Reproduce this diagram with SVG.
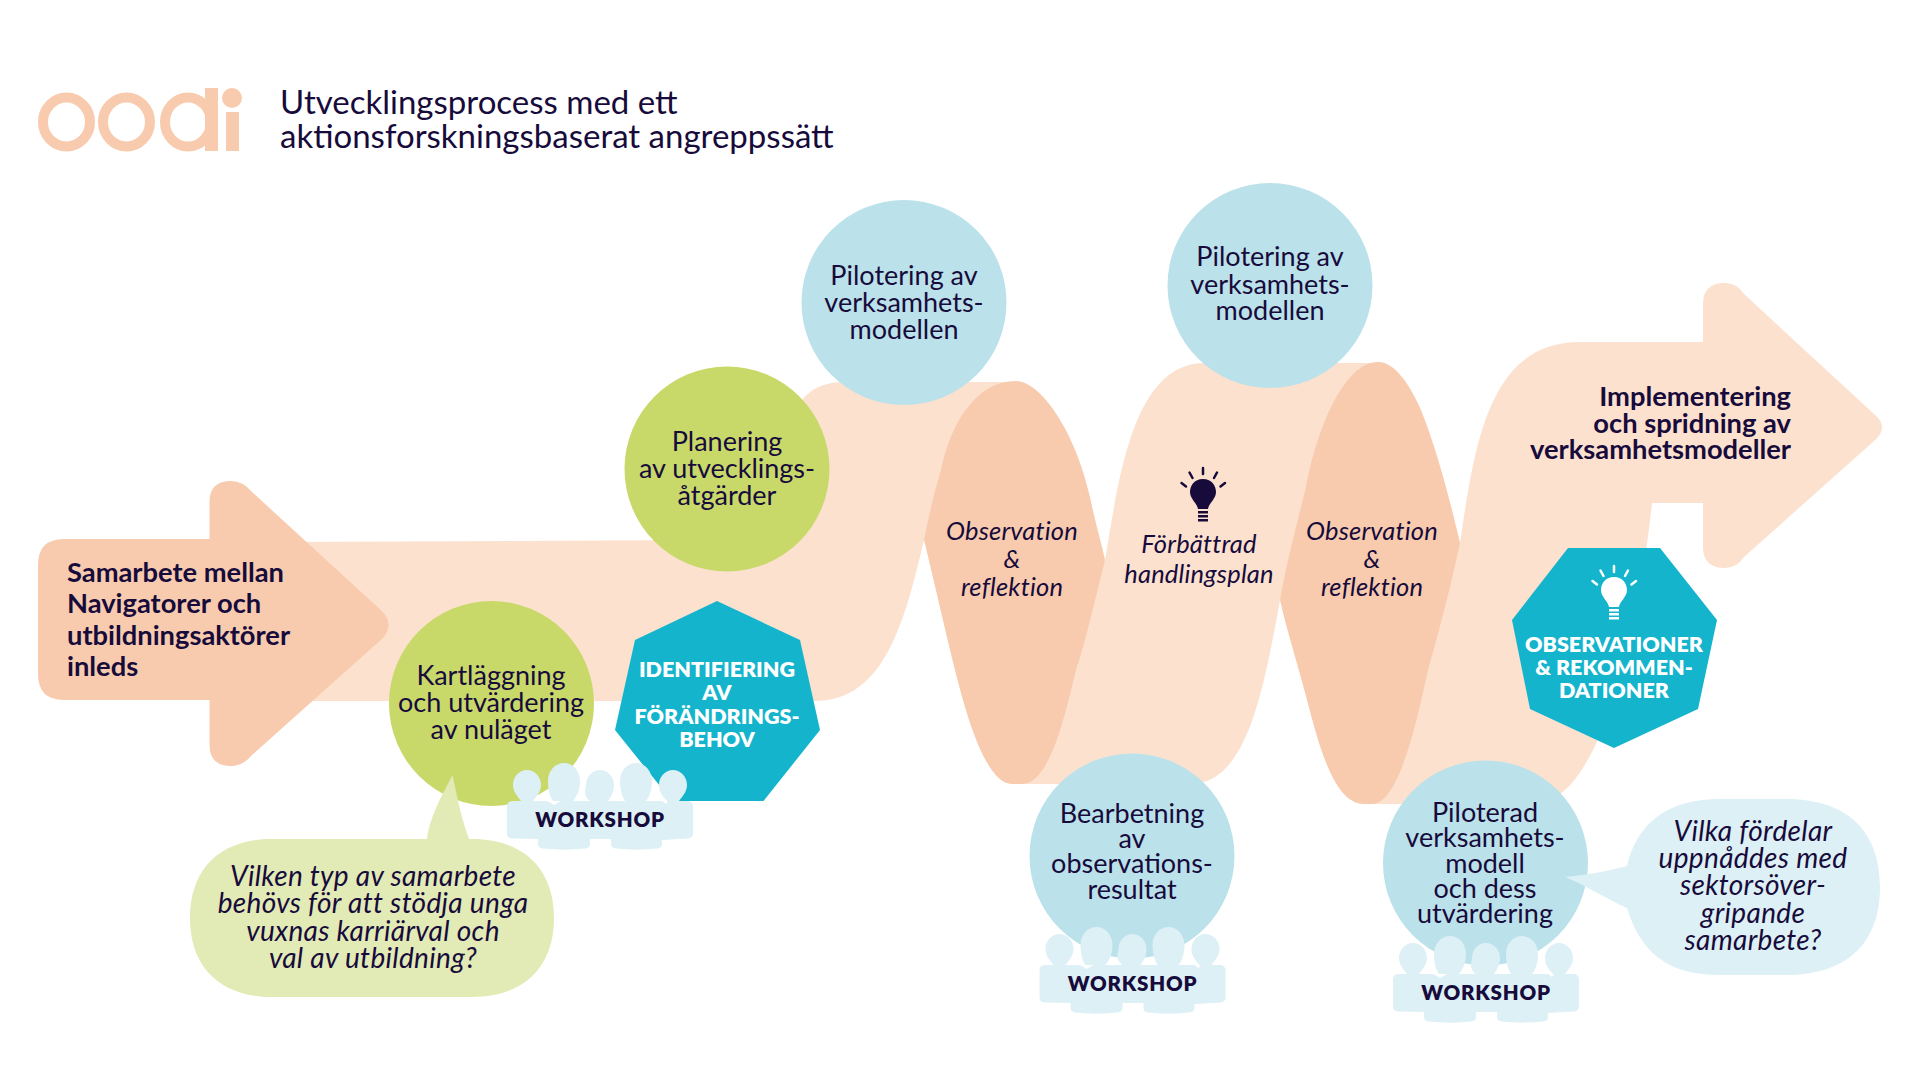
<svg xmlns="http://www.w3.org/2000/svg" width="1920" height="1080" viewBox="0 0 1920 1080">
<style>
text{font-family:"Lato","Liberation Sans",sans-serif;fill:#170b3b;text-anchor:middle}
.c{font-size:27px}
.i{font-size:28px;font-style:italic;letter-spacing:.33px}
.f{font-size:25.500px;font-style:italic;letter-spacing:.2px}
.b{font-size:27.300px;font-weight:700}
.h{font-size:21.500px;font-weight:800;fill:#fff}
.w{font-size:20.500px;font-weight:800;letter-spacing:.8px}
.t{font-size:33px;text-anchor:start}
.l{text-anchor:start}
.r{text-anchor:end}
.lb{fill:#fce1cf}.pc{fill:#f8cbae}.gr{fill:#c8d96a}.bl{fill:#bbe1ea}.te{fill:#13b4cc}.pale{fill:#ddf0f5}.lg{fill:#e2eab5}
.ray{stroke:currentColor;stroke-width:2.500;stroke-linecap:round;fill:none}
</style>
<defs>
<g id="people" class="pale">
<path d="M527,770C535,770 541,777 541,785C541,791 537,796 533,801L545,801C548,801 551,803 554,805L561,801L553,801C550,797 548,790 548,781C548,771 555,763 564,763C573,763 580,771 580,781C580,790 577,796 573,801L590,801C582,795 586,788 586,785C586,777 592,770 600,770C608,770 614,777 614,785C614,790 612,796 608,801L625,801C622,796 620,789 620,781C620,771 627,763 636,763C645,763 652,771 652,781C652,789 650,796 646,801L662,801L666,804L668,801L667,801C662,796 659,791 659,785C659,777 665,770 673,770C681,770 687,777 687,785C687,791 683,796 679,801L687,801C691,801 693,803 693,807L693,833C693,837 691,838 688,838.500L662,840L662,844C662,847 660,848 657,848.500C643,850 630,850 616,848.500C613,848 611,847 611,844L611,839L590,839L590,844C590,847 588,848 585,848.500C571,850 557,850 543,848.500C540,848 538,847 538,844L538,839L512,838.500C509,838 507,837 507,833L507,807C507,803 509,801 513,801L521,801C517,796 513,791 513,785C513,777 519,770 527,770Z"/>
</g>
<g id="bulb">
<path fill="currentColor" d="M1203,479C1212,479 1216,486 1216,492C1216,499 1209,503 1208,509L1198,509C1197,503 1190,499 1190,492C1190,486 1194,479 1203,479Z"/>
<path fill="currentColor" d="M1198,511h10v2.500h-10zM1198,515h10v2.500h-10zM1198,519h10v2.500h-10z"/>
<path class="ray" d="M1203,468V474M1189.500,472.500L1192.500,478M1217,472.500L1214,478M1181.500,483L1186,486.500M1225,483L1220.500,486.500"/>
</g>
</defs>
<rect width="1920" height="1080" fill="#fff"/>

<g id="logo" fill="#f8cbae">
<ellipse cx="66.500" cy="122" rx="23.500" ry="24.500" fill="none" stroke="#f8cbae" stroke-width="10"/>
<ellipse cx="126.500" cy="122" rx="23.500" ry="24.500" fill="none" stroke="#f8cbae" stroke-width="10"/>
<ellipse cx="188" cy="122" rx="23" ry="24.500" fill="none" stroke="#f8cbae" stroke-width="10"/>
<rect x="205" y="88" width="13" height="63"/>
<rect x="226" y="112" width="13" height="39"/>
<circle cx="232" cy="98" r="10"/>
</g>
<g id="title">
<text class="t" x="280" y="114">Utvecklingsprocess med ett</text>
<text class="t" x="280" y="148">aktionsforskningsbaserat angreppssätt</text>
</g>

<g id="ribbon">
<path class="lb" d="M290,542L700,540C745,539 770,500 785,440C795,400 810,382 845,382L1016,382L1016,420L924,540C905,620 885,701 815,701L290,701Z"/>
<path class="lb" d="M1022,784L1105,560C1120,470 1135,363 1205,363L1374,363L1374,420L1280,600C1262,700 1245,784 1190,784Z"/>
<path class="lb" d="M1364,804L1460,543C1475,440 1490,342 1580,342L1703,342L1703,304Q1703,283 1725,283Q1737,283 1744,294L1874,414Q1890,427 1874,441L1744,557Q1737,568 1725,568Q1703,568 1703,547L1703,503L1652,503C1645,570 1625,690 1594,748C1578,780 1560,804 1530,804Z"/>
<path class="pc" d="M1016,381C1040,381 1075,430 1090,497C1097,530 1102,545 1105,560C1095,600 1086,640 1076,670C1065,715 1050,784 1022,784L1012,784C985,784 965,710 955,670C945,630 935,585 924,540C930,510 935,490 941,470C950,425 975,381 1016,381Z"/>
<path class="pc" d="M1378,362C1395,362 1410,385 1421,410C1437,450 1450,500 1460,543C1450,590 1438,635 1428,670C1418,715 1400,804 1372,804L1364,804C1335,804 1320,750 1307,700C1298,665 1288,635 1280,600C1287,560 1298,520 1306,487C1318,425 1345,362 1378,362Z"/>
</g>

<g id="n-start">
<path class="pc" d="M64,539L209.500,539L209.500,502Q209.500,481 231,481Q243,481 252,492L383,612Q394,625 383,638L252,755Q243,766 231,766Q209.500,766 209.500,745L209.500,700L64,700Q38,700 38,674L38,565Q38,539 64,539Z"/>
<text class="b l" x="67" y="582">Samarbete mellan</text>
<text class="b l" x="67" y="613">Navigatorer och</text>
<text class="b l" x="67" y="645">utbildningsaktörer</text>
<text class="b l" x="67" y="676">inleds</text>
</g>

<g id="n-folds">
<text class="f" x="1012" y="540">Observation</text>
<text class="f" x="1012" y="568">&amp;</text>
<text class="f" x="1012" y="596">reflektion</text>
<text class="f" x="1372" y="540">Observation</text>
<text class="f" x="1372" y="568">&amp;</text>
<text class="f" x="1372" y="596">reflektion</text>
</g>

<g id="n-implementering">
<text class="b r" x="1791" y="406">Implementering</text>
<text class="b r" x="1791" y="433">och spridning av</text>
<text class="b r" x="1791" y="459">verksamhetsmodeller</text>
</g>

<g id="n-handlingsplan" color="#170b3b">
<use href="#bulb"/>
<text class="f" x="1199" y="553">Förbättrad</text>
<text class="f" x="1199" y="583">handlingsplan</text>
</g>

<g id="n-kartlaggning">
<circle class="gr" cx="491.500" cy="703.500" r="102.500"/>
<text class="c" x="491" y="685">Kartläggning</text>
<text class="c" x="491" y="712">och utvärdering</text>
<text class="c" x="491" y="739">av nuläget</text>
</g>
<g id="n-planering">
<circle class="gr" cx="727" cy="469" r="102.500"/>
<text class="c" x="727" y="451">Planering</text>
<text class="c" x="727" y="478">av utvecklings-</text>
<text class="c" x="727" y="505">åtgärder</text>
</g>
<g id="n-pilotering1">
<circle class="bl" cx="904" cy="302.500" r="102.500"/>
<text class="c" x="904" y="285">Pilotering av</text>
<text class="c" x="904" y="312">verksamhets-</text>
<text class="c" x="904" y="339">modellen</text>
</g>
<g id="n-pilotering2">
<circle class="bl" cx="1270" cy="285.500" r="102.500"/>
<text class="c" x="1270" y="266">Pilotering av</text>
<text class="c" x="1270" y="294">verksamhets-</text>
<text class="c" x="1270" y="320">modellen</text>
</g>
<g id="n-bearbetning">
<circle class="bl" cx="1132" cy="856" r="102.500"/>
<text class="c" x="1132" y="823">Bearbetning</text>
<text class="c" x="1132" y="848">av</text>
<text class="c" x="1132" y="873">observations-</text>
<text class="c" x="1132" y="899">resultat</text>
</g>
<g id="n-piloterad">
<circle class="bl" cx="1485.500" cy="863" r="102.500"/>
<text class="c" x="1485" y="822">Piloterad</text>
<text class="c" x="1485" y="847">verksamhets-</text>
<text class="c" x="1485" y="873">modell</text>
<text class="c" x="1485" y="898">och dess</text>
<text class="c" x="1485" y="923">utvärdering</text>
</g>

<g id="n-identifiering">
<path class="te" d="M717,601L800,640L820,730L763.500,801L672,801L615,730L635,640Z"/>
<text class="h" x="717" y="676.500">IDENTIFIERING</text>
<text class="h" x="717" y="700">AV</text>
<text class="h" x="717" y="724">FÖRÄNDRINGS-</text>
<text class="h" x="717" y="746.500">BEHOV</text>
</g>
<g id="n-observationer" color="#fff">
<path class="te" d="M1568,548L1660,548L1717,620L1698,709L1614,748L1530,709L1512,620Z"/>
<use href="#bulb" x="411" y="98"/>
<text class="h" x="1614" y="652">OBSERVATIONER</text>
<text class="h" x="1614" y="675">&amp; REKOMMEN-</text>
<text class="h" x="1614" y="698">DATIONER</text>
</g>

<g id="n-workshop1">
<use href="#people"/>
<text class="w" x="600" y="827">WORKSHOP</text>
</g>
<g id="n-workshop2">
<use href="#people" x="532.500" y="164"/>
<text class="w" x="1132.500" y="991">WORKSHOP</text>
</g>
<g id="n-workshop3">
<use href="#people" x="886" y="173"/>
<text class="w" x="1486" y="1000">WORKSHOP</text>
</g>

<g id="n-fraga1">
<path class="lg" d="M427,839C430,815 445,790 452.500,775C456,790 460,815 469,839L472,839C525,839 554,870 554,918C554,966 525,997 472,997L272,997C219,997 190,966 190,918C190,870 219,839 272,839Z"/>
<text class="i" x="373" y="886">Vilken typ av samarbete</text>
<text class="i" x="373" y="913">behövs för att stödja unga</text>
<text class="i" x="373" y="941">vuxnas karriärval och</text>
<text class="i" x="373" y="968">val av utbildning?</text>
</g>
<g id="n-fraga2">
<path class="pale" d="M1627,866C1605,872 1585,875 1565,877C1585,885 1605,898 1627,908C1640,950 1665,975 1720,975L1786,975C1845,975 1880,945 1880,887C1880,829 1845,799 1786,799L1720,799C1665,799 1637,825 1627,866Z"/>
<text class="i" x="1753" y="841">Vilka fördelar</text>
<text class="i" x="1753" y="868">uppnåddes med</text>
<text class="i" x="1753" y="895">sektorsöver-</text>
<text class="i" x="1753" y="923">gripande</text>
<text class="i" x="1753" y="950">samarbete?</text>
</g>
</svg>
